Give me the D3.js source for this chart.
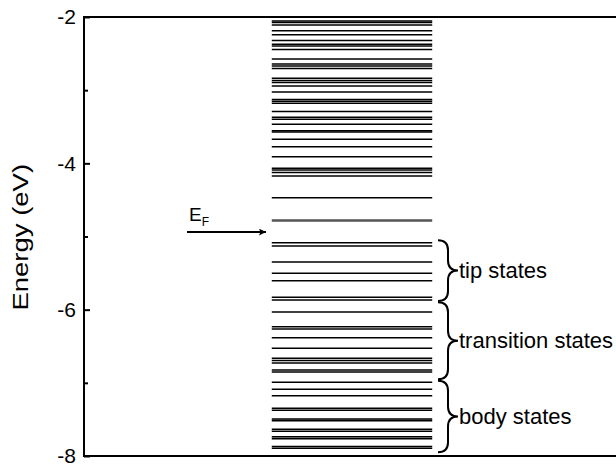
<!DOCTYPE html>
<html>
<head>
<meta charset="utf-8">
<script src="https://cdn.jsdelivr.net/npm/d3@7"></script>
<style>
  body { margin: 0; background: #fff; }
  text { font-family: "Liberation Sans", Arial, sans-serif; fill: #000; }
</style>
</head>
<body>
<div id="chart"></div>
<script>
// energy levels (eV)
var levels = [-2.055, -2.075, -2.109, -2.187, -2.242, -2.321, -2.373, -2.396, -2.444,
    -2.574, -2.642, -2.670, -2.704, -2.838, -2.868, -2.895, -2.943, -3.025,
    -3.128, -3.152, -3.179, -3.292, -3.371, -3.398, -3.465, -3.554, -3.572,
    -3.671, -3.774, -3.909, -4.068, -4.091, -4.125, -4.173, -4.470,
    -5.085, -5.130, -5.348, -5.503, -5.604, -5.831, -5.868,
    -6.032, -6.233, -6.264, -6.383, -6.528, -6.664, -6.695, -6.729, -6.824, -6.852,
    -6.993, -7.088, -7.176, -7.348, -7.375, -7.494, -7.517, -7.635, -7.662,
    -7.736, -7.763, -7.870, -7.895];
// HOMO level drawn in grey
var homo = [-4.781];
var fermi = -4.94;

var yTicks = [-2, -4, -6, -8];
var yMinor = [-3, -5, -7];

// brace groups
var groupNames = ["tip states", "transition states", "body states"];
var groupTop = [-5.05, -5.90, -6.97];
var groupBottom = [-5.88, -6.95, -7.95];

var width = 616, height = 466;
var margin = {top: 17, right: 6, bottom: 10, left: 84};

var svg = d3.select("#chart").append("svg")
    .attr("width", width)
    .attr("height", height);

var y = d3.scaleLinear().domain([-8, -2]).range([456, 17]);
var x = d3.scaleLinear().domain([0, 1]).range([margin.left, 610]);

var lx0 = x(0.357), lx1 = x(0.662);

// levels
svg.append("g").selectAll("line")
    .data(levels)
    .enter().append("line")
    .attr("x1", lx0).attr("x2", lx1)
    .attr("y1", function(d) { return y(d); })
    .attr("y2", function(d) { return y(d); })
    .attr("stroke", "#000")
    .attr("stroke-width", 1.6);

svg.append("g").selectAll("line")
    .data(homo)
    .enter().append("line")
    .attr("x1", lx0).attr("x2", lx1)
    .attr("y1", function(d) { return y(d); })
    .attr("y2", function(d) { return y(d); })
    .attr("stroke", "#555")
    .attr("stroke-width", 2.5);

// axes frame
svg.append("line").attr("x1", 84).attr("x2", 84).attr("y1", 17).attr("y2", 456)
    .attr("stroke", "#000").attr("stroke-width", 2);
svg.append("line").attr("x1", 83).attr("x2", 616).attr("y1", 17).attr("y2", 17)
    .attr("stroke", "#000").attr("stroke-width", 2);
svg.append("line").attr("x1", 83).attr("x2", 616).attr("y1", 456).attr("y2", 456)
    .attr("stroke", "#000").attr("stroke-width", 2);

var yAxis = d3.axisLeft(y).tickValues(yTicks).tickSize(-6).tickPadding(8)
    .tickFormat(function(d) { return String(d); });
var gy = svg.append("g").attr("transform", "translate(84,0)").call(yAxis);
gy.select(".domain").remove();
gy.selectAll("line").attr("stroke-width", 2);
gy.selectAll("text")
    .style("font-family", "Liberation Sans, Arial, sans-serif")
    .style("font-size", "21px")
    .attr("dy", "0.33em");

var gm = svg.append("g").attr("transform", "translate(84,0)")
    .call(d3.axisLeft(y).tickValues(yMinor).tickSize(-4).tickFormat(""));
gm.select(".domain").remove();
gm.selectAll("line").attr("stroke-width", 2);

svg.append("text")
    .attr("transform", "translate(28," + y(-5.01) + ") rotate(-90) scale(1.25,1)")
    .attr("text-anchor", "middle")
    .style("font-size", "22px")
    .text("Energy (eV)");

// Fermi level arrow
svg.append("defs").append("marker")
    .attr("id", "arr").attr("viewBox", "0 0 10 10")
    .attr("refX", 10).attr("refY", 5)
    .attr("markerWidth", 10).attr("markerHeight", 7)
    .attr("markerUnits", "userSpaceOnUse")
    .attr("orient", "auto")
    .append("path").attr("d", "M0,0L10,5L0,10L2,5Z").attr("fill", "#000");

svg.append("line")
    .attr("x1", 187).attr("x2", 266)
    .attr("y1", y(fermi)).attr("y2", y(fermi))
    .attr("stroke", "#000").attr("stroke-width", 2)
    .attr("marker-end", "url(#arr)");

var ef = svg.append("text").attr("x", 189).attr("y", y(fermi) - 11)
    .style("font-size", "19px");
ef.append("tspan").text("E");
ef.append("tspan").attr("dy", 5).style("font-size", "12px").text("F");

// braces
function bracePath(x0, y0, y1, w) {
    var ym = (y0 + y1) / 2, r = w / 2;
    return "M" + x0 + "," + y0 +
        "Q" + (x0 + r) + "," + y0 + " " + (x0 + r) + "," + (y0 + r) +
        "L" + (x0 + r) + "," + (ym - r) +
        "Q" + (x0 + r) + "," + ym + " " + (x0 + w) + "," + ym +
        "Q" + (x0 + r) + "," + ym + " " + (x0 + r) + "," + (ym + r) +
        "L" + (x0 + r) + "," + (y1 - r) +
        "Q" + (x0 + r) + "," + y1 + " " + x0 + "," + y1;
}

groupNames.forEach(function(name, i) {
    var y0 = y(groupTop[i]), y1 = y(groupBottom[i]);
    svg.append("path")
        .attr("d", bracePath(438, y0, y1, 20))
        .attr("fill", "none")
        .attr("stroke", "#000")
        .attr("stroke-width", 2);
    svg.append("text")
        .attr("x", 459)
        .attr("y", (y0 + y1) / 2)
        .attr("dy", "0.35em")
        .style("font-size", "22px")
        .text(name);
});
</script>
</body>
</html>
